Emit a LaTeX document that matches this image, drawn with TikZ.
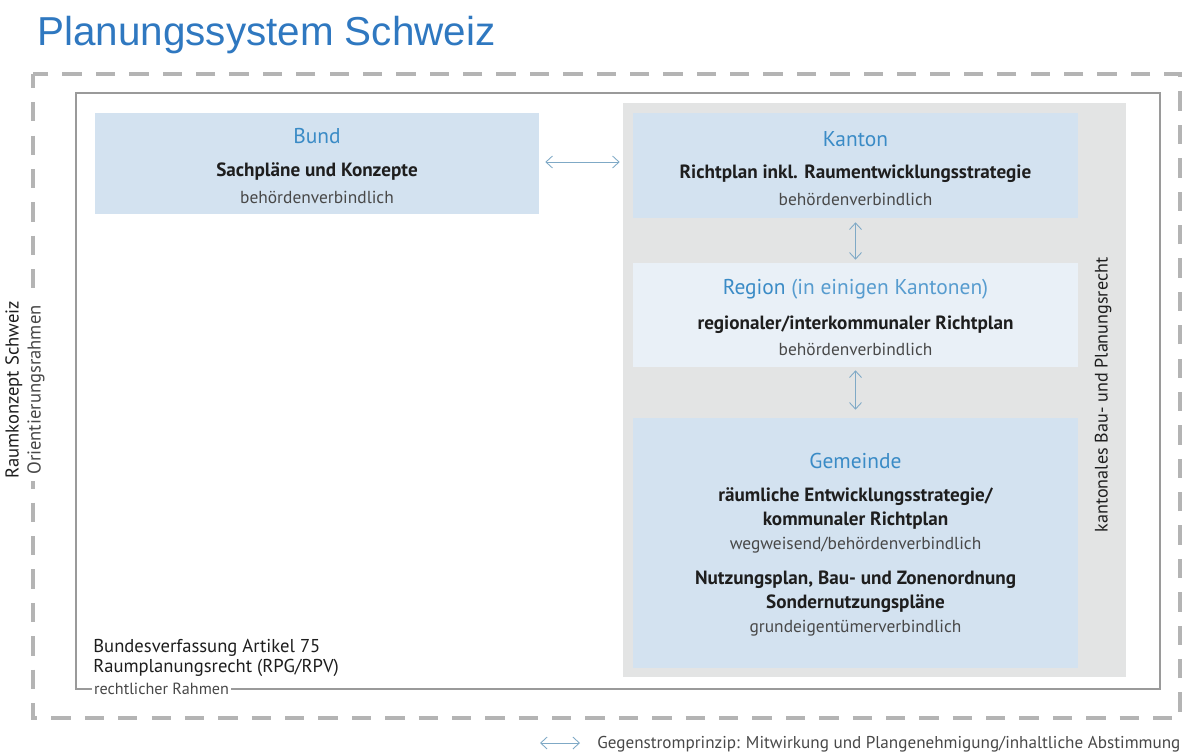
\documentclass[tikz,border=0pt]{standalone}
\usepackage{fontspec}
\setmainfont{PT Sans}
\newfontfamily\titlefont{Liberation Sans}
\usetikzlibrary{arrows.meta}
\definecolor{titleblue}{HTML}{2F78C0}
\definecolor{headblue}{HTML}{3A8BC6}
\definecolor{boxblue}{HTML}{D3E2F0}
\definecolor{boxlight}{HTML}{E9F0F7}
\definecolor{panelgray}{HTML}{E3E4E4}
\definecolor{dashgray}{HTML}{B4B4B4}
\definecolor{linegray}{HTML}{9A9A9A}
\definecolor{arrowblue}{HTML}{7FA9C6}
\definecolor{textdark}{HTML}{1E1E1E}
\definecolor{textlight}{HTML}{484848}
\tikzstyle{planbox}=[rectangle, fill=boxblue, inner sep=0pt]
\tikzstyle{head}=[font=\fontsize{12.2}{14}\selectfont, text=headblue, inner sep=0pt]
\tikzstyle{plan}=[font=\bfseries\fontsize{10.9}{12}\selectfont, text=textdark, inner sep=0pt]
\tikzstyle{bind}=[font=\fontsize{9.9}{11}\selectfont, text=textlight, inner sep=0pt]
\tikzstyle{gsp}=[draw=arrowblue, line width=0.5pt, {Straight Barb[length=1.3mm,width=2.4mm]}-{Straight Barb[length=1.3mm,width=2.4mm]}]

\begin{document}
\begin{tikzpicture}[x=0.02cm, y=-0.02cm]
	\useasboundingbox (0,0) rectangle (1185,755);
	% title
	\node (title) [anchor=base west, inner sep=0pt, text=titleblue, font=\titlefont\fontsize{23}{26}\selectfont] at (37,45) {Planungssystem Schweiz};
	% frames
	\draw[dashgray, line width=2.8pt, dash pattern=on 11pt off 8pt, dash phase=3pt] (33,74) rectangle (1180,718);
	\draw[linegray, line width=0.6pt] (76,93) rectangle (1160,689);
	\begin{scope}
		\node (raumkonzept) [rotate=90, fill=white, align=center, inner sep=1pt, font=\fontsize{10.6}{12.5}\selectfont] at (25,390) {\textcolor{textdark}{Raumkonzept Schweiz}\\\textcolor{textlight}{Orientierungsrahmen}};
		\node (rahmen) [anchor=west, fill=white, inner sep=1pt, text=textlight, font=\fontsize{9.2}{11}\selectfont] at (92,689) {rechtlicher Rahmen};
		\node (bv) [anchor=west, inner sep=0pt, text=textdark, font=\fontsize{10.6}{12}\selectfont] at (93,648) {Bundesverfassung Artikel 75};
		\node (rpg) [anchor=west, inner sep=0pt, text=textdark, font=\fontsize{10.6}{12}\selectfont] at (93,668) {Raumplanungsrecht (RPG/RPV)};
	\end{scope}
	% kantonale ebene
	\node (kantonal) [fill=panelgray, minimum width=10.06cm, minimum height=11.48cm, inner sep=0pt] at (874.5,390) {};
	\node (recht) [rotate=90, inner sep=0pt, text=textdark, font=\fontsize{10.3}{12}\selectfont] at (1103,395) {kantonales Bau- und Planungsrecht};
	% boxes
	\begin{scope}
		\node (bund) [planbox, minimum width=8.88cm, minimum height=2.02cm] at (317,163.5) {};
		\node (bundhead) [head] at (317,136) {Bund};
		\node (bundplan) [plan] at (317,172) {Sachpläne und Konzepte};
		\node (bundbind) [bind] at (317,197) {behördenverbindlich};

		\node (kanton) [planbox, minimum width=8.9cm, minimum height=2.1cm] at (855.5,165.5) {};
		\node (kantonhead) [head] at (855.5,139) {Kanton};
		\node (kantonplan) [plan] at (855.5,174) {Richtplan inkl. Raumentwicklungsstrategie};
		\node (kantonbind) [bind] at (855.5,199) {behördenverbindlich};

		\node (region) [planbox, fill=boxlight, minimum width=8.9cm, minimum height=2.08cm] at (855.5,315) {};
		\node (regionhead) [head] at (855.5,289) {Region {\color{headblue!85}(in einigen Kantonen)}};
		\node (regionplan) [plan] at (855.5,325) {regionaler/interkommunaler Richtplan};
		\node (regionbind) [bind] at (855.5,349) {behördenverbindlich};

		\node (gemeinde) [planbox, minimum width=8.9cm, minimum height=5cm] at (855.5,543) {};
		\node (gemeindehead) [head] at (855.5,461) {Gemeinde};
		\node (strategie) [plan] at (855.5,497) {räumliche Entwicklungsstrategie/};
		\node (komrichtplan) [plan] at (855.5,521) {kommunaler Richtplan};
		\node (wegweisend) [bind] at (855.5,545) {wegweisend/behördenverbindlich};
		\node (nutzungsplan) [plan] at (855.5,580) {Nutzungsplan, Bau- und Zonenordnung};
		\node (sondernutzung) [plan] at (855.5,604) {Sondernutzungspläne};
		\node (eigentuemer) [bind] at (855.5,628) {grundeigentümerverbindlich};
	\end{scope}
	% gegenstromprinzip
	\coordinate (bundout) at (bund.east |- 0,162);
	\coordinate (kantonin) at (kantonal.west |- 0,162);
	\draw [gsp, shorten <=0.12cm, shorten >=0.06cm] (bundout) -- (kantonin);
	\draw [gsp, shorten <=0.08cm, shorten >=0.06cm] (kanton.south) -- (region.north);
	\draw [gsp, shorten <=0.06cm, shorten >=0.16cm] (region.south) -- (gemeinde.north);
	% legende
	\coordinate (legstart) at (540,743);
	\node (legende) [anchor=west, inner sep=0pt, text=textlight, font=\fontsize{9.75}{11}\selectfont] at (597,744) {Gegenstromprinzip: Mitwirkung und Plangenehmigung/inhaltliche Abstimmung};
	\coordinate (legend) at (legende.west |- legstart);
	\draw [gsp, shorten >=0.34cm] (legstart) -- (legend);
\end{tikzpicture}
\end{document}
